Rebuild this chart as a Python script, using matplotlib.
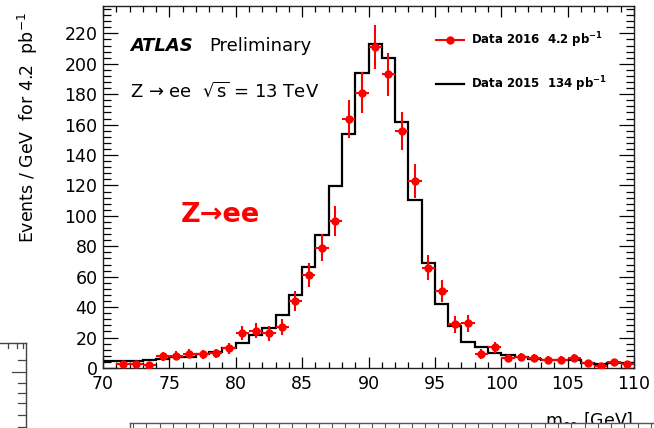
import numpy as np
import matplotlib
matplotlib.use("Agg")
import matplotlib.pyplot as plt
from matplotlib.lines import Line2D
from matplotlib.ticker import MultipleLocator

# ---- data ----
bin_edges = list(range(70, 111))  # 1 GeV bins
data2015 = [4.8, 4.3, 4.3, 5.0, 6.2, 7.0, 7.0, 9.3, 10.8, 13.4,
            16.2, 21.6, 26.4, 35.0, 48.2, 66.4, 87.5, 119.7, 153.8, 193.9,
            212.7, 204.0, 161.7, 110.3, 69.2, 42.3, 27.4, 16.8, 14.0, 9.8,
            8.5, 7.4, 6.0, 5.5, 5.3, 5.1, 3.6, 2.8, 3.5, 3.0]
data2016 = [np.nan, 2.8, 2.8, 2.2, 7.6, 8.2, 9.3, 9.1, 9.7, 13.0,
            23.1, 24.4, 22.7, 27.0, 43.9, 61.0, 79.0, 96.7, 163.7, 181.0,
            211.0, 193.0, 155.8, 123.0, 65.9, 50.6, 28.7, 29.3, 9.2, 13.6,
            6.3, 7.4, 6.8, 5.3, 5.3, 6.8, 3.1, 1.3, 4.2, 2.6]
err2016 = [0, 1.7, 1.7, 1.5, 2.8, 2.9, 3.0, 3.0, 3.1, 3.6,
           4.8, 4.9, 4.8, 5.2, 6.6, 7.8, 8.9, 9.8, 12.8, 13.5,
           14.5, 13.9, 12.5, 11.1, 8.1, 7.1, 5.4, 5.4, 3.0, 3.7,
           2.5, 2.7, 2.6, 2.3, 2.3, 2.6, 1.8, 1.1, 2.0, 1.6]
label2016 = "Data 2016  4.2 pb$^{\\mathregular{-1}}$"
label2015 = "Data 2015  134 pb$^{\\mathregular{-1}}$"

W, H = 654, 428
fig = plt.figure(figsize=(W / 100, H / 100), dpi=100)
fig.patch.set_facecolor("white")

def fx(px):
    return px / W

def fy(py):
    return 1 - py / H

L, R, T, B = 103, 634, 6, 368
ax = fig.add_axes([fx(L), fy(B), fx(R) - fx(L), fy(T) - fy(B)])

edges = np.array(bin_edges, dtype=float)
centers = 0.5 * (edges[:-1] + edges[1:])
ax.stairs(data2015, edges, color="black", lw=1.6, baseline=None, zorder=2)
ax.errorbar(centers, data2016, yerr=err2016, xerr=0.5, fmt="o", color="red",
            ms=5, elinewidth=1.5, capsize=0, zorder=3)

ax.set_xlim(70, 110)
ax.set_ylim(0, 238)
ax.xaxis.set_major_locator(MultipleLocator(5))
ax.xaxis.set_minor_locator(MultipleLocator(1))
ax.yaxis.set_major_locator(MultipleLocator(20))
ax.yaxis.set_minor_locator(MultipleLocator(4))
ax.tick_params(axis="both", which="both", direction="in", top=True, right=True,
               color="black", width=0.9)
ax.tick_params(axis="x", which="major", length=8, pad=5, labelsize=12.5)
ax.tick_params(axis="x", which="minor", length=4)
ax.tick_params(axis="y", which="major", length=11, pad=4, labelsize=12.5)
ax.tick_params(axis="y", which="minor", length=5.5)
for s in ax.spines.values():
    s.set_linewidth(1.0)
    s.set_color("#222222")

# legend
handles = [Line2D([], [], color="red", marker="o", ms=5, lw=1.5),
           Line2D([], [], color="black", lw=1.6)]
leg = ax.legend(handles, [label2016, label2015], loc="upper left",
                bbox_to_anchor=((436 - L) / (R - L), 1 - (30 - T) / (B - T)),
                frameon=False, prop={"weight": "bold", "size": 8.5},
                handlelength=2.4, labelspacing=2.1, handletextpad=0.6,
                borderaxespad=0, borderpad=0)

# texts
fig.text(fx(130), fy(46), "ATLAS", fontsize=13, fontweight="bold",
         fontstyle="italic", ha="left", va="center")
fig.text(fx(209), fy(46), "Preliminary", fontsize=13, ha="left", va="center")
fig.text(fx(130), fy(91), "Z \u2192 ee  $\\sqrt{\\mathregular{s}}$ = 13 TeV",
         fontsize=13, ha="left", va="center")
fig.text(fx(181), fy(215), "Z\u2192ee", fontsize=19.5, fontweight="bold",
         color="red", ha="left", va="center")
fig.text(fx(28), fy(128), "Events / GeV  for 4.2  pb$^{\\mathregular{-1}}$",
         fontsize=12.5, rotation=90, ha="center", va="center")
fig.text(fx(633), fy(410), "m$_{\\mathregular{ee}}$ [GeV]", fontsize=12.5,
         ha="right", va="top")

# fragments of neighbouring panels (screenshot edges)
fig.patches.append(matplotlib.patches.Rectangle((fx(130), 0), 1 - fx(130), fy(423),
                   transform=fig.transFigure, facecolor="white", edgecolor="none", zorder=5))
fig.lines.append(Line2D([fx(130), 1.0], [fy(423), fy(423)], transform=fig.transFigure,
                        color="#555555", lw=1.0, zorder=6))
fig.lines.append(Line2D([fx(130), fx(130)], [fy(423), 0], transform=fig.transFigure,
                        color="#555555", lw=1.0, zorder=6))
for px in np.arange(133, 654, 13.28):
    fig.lines.append(Line2D([fx(px), fx(px)], [fy(423), fy(428)], transform=fig.transFigure,
                            color="#555555", lw=0.8, zorder=6))
fig.lines.append(Line2D([fx(26), fx(26)], [fy(343), 0], transform=fig.transFigure,
                        color="#444444", lw=1.0))
fig.lines.append(Line2D([0, fx(26)], [fy(343), fy(343)], transform=fig.transFigure,
                        color="#444444", lw=1.0))
for py, ln in [(360, 8), (372, 14), (383, 8), (393, 8), (403, 8), (415, 8), (427, 8)]:
    fig.lines.append(Line2D([fx(26 - ln), fx(26)], [fy(py), fy(py)], transform=fig.transFigure,
                            color="#444444", lw=0.9))
for px in [8, 17, 23]:
    fig.lines.append(Line2D([fx(px), fx(px)], [fy(343), fy(348)], transform=fig.transFigure,
                            color="#444444", lw=0.9))

fig.savefig("out.png", dpi=100)
